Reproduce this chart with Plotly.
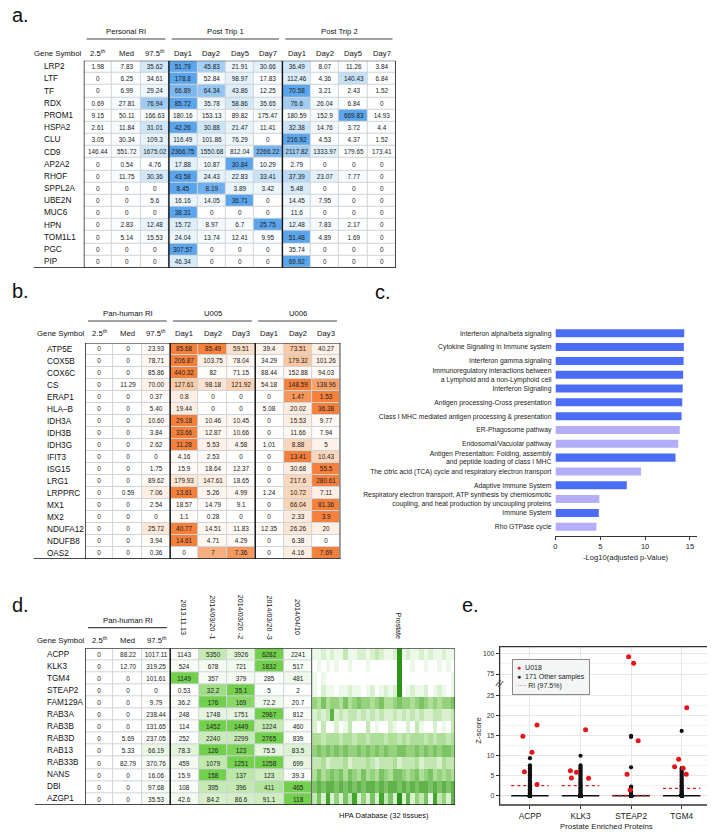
import plotly.graph_objects as go

# page body has an 8px margin, so the figure is drawn 8px in from the corner
OX, OY = 8, 8
FW, FH = 707, 824
FONT = "Liberation Sans, Arial, Helvetica, sans-serif"


def fx(p):
    return (p - OX) / FW


def fy(p):
    return 1 - (p - OY) / FH


# ---------------- panel a data ----------------
a_genes = ["LRP2", "LTF", "TF", "RDX", "PROM1", "HSPA2", "CLU", "CD9", "AP2A2", "RHOF",
           "SPPL2A", "UBE2N", "MUC6", "HPN", "TOM1L1", "PGC", "PIP"]
a_cols = ["2.5<sup>th</sup>", "Med", "97.5<sup>th</sup>", "Day1", "Day2", "Day5", "Day7",
          "Day1", "Day2", "Day5", "Day7"]
a_groups = ["Personal RI", "Post Trip 1", "Post Trip 2"]
a_spans = [(0, 2), (3, 6), (7, 10)]
a_vals = [
    ["1.98", "7.83", "35.62", "51.79", "45.83", "21.91", "30.66", "36.49", "8.07", "11.26", "3.84"],
    ["0", "6.25", "34.61", "178.8", "52.84", "98.97", "17.83", "112.46", "4.36", "140.43", "6.84"],
    ["0", "6.99", "29.24", "66.89", "64.34", "43.86", "12.25", "70.58", "3.21", "2.43", "1.52"],
    ["0.69", "27.81", "76.94", "85.72", "35.78", "58.86", "35.65", "76.6", "26.04", "6.84", "0"],
    ["9.15", "50.11", "166.63", "180.16", "153.13", "89.82", "175.47", "180.59", "152.9", "669.83", "14.93"],
    ["2.61", "11.84", "31.01", "42.26", "30.88", "21.47", "11.41", "32.38", "14.76", "3.72", "4.4"],
    ["3.05", "30.34", "109.3", "116.49", "101.86", "76.29", "0", "216.92", "4.53", "4.37", "1.52"],
    ["146.44", "551.72", "1675.02", "2366.75", "1550.68", "812.04", "2266.22", "2117.82", "1333.97", "179.65", "173.41"],
    ["0", "0.54", "4.76", "17.88", "10.87", "30.84", "10.29", "2.79", "0", "0", "0"],
    ["0", "11.75", "30.36", "43.58", "24.43", "22.83", "33.41", "37.39", "23.07", "7.77", "0"],
    ["0", "0", "0", "8.45", "8.19", "3.89", "3.42", "5.48", "0", "0", "0"],
    ["0", "0", "5.6", "16.16", "14.05", "36.71", "0", "14.45", "7.95", "0", "0"],
    ["0", "0", "0", "38.31", "0", "0", "0", "11.6", "0", "0", "0"],
    ["0", "2.83", "12.48", "15.72", "8.97", "6.7", "25.75", "12.48", "7.83", "2.17", "0"],
    ["0", "5.14", "15.53", "24.04", "13.74", "12.41", "9.95", "51.48", "4.89", "1.69", "0"],
    ["0", "0", "0", "307.57", "0", "0", "0", "35.74", "0", "0", "0"],
    ["0", "0", "0", "46.34", "0", "0", "0", "69.92", "0", "0", "0"],
]

# ---------------- panel b data ----------------
b_genes = ["ATP5E", "COX5B", "COX6C", "CS", "ERAP1", "HLA\u2013B", "IDH3A", "IDH3B", "IDH3G",
           "IFIT3", "ISG15", "LRG1", "LRPPRC", "MX1", "MX2", "NDUFA12", "NDUFB8", "OAS2"]
b_cols = ["2.5<sup>th</sup>", "Med", "97.5<sup>th</sup>", "Day1", "Day2", "Day3", "Day1", "Day2", "Day3"]
b_groups = ["Pan-human RI", "U005", "U006"]
b_spans = [(0, 2), (3, 5), (6, 8)]
b_vals = [
    ["0", "0", "23.93", "85.68", "85.49", "59.51", "39.4", "73.51", "40.27"],
    ["0", "0", "78.71", "206.87", "103.75", "78.04", "34.29", "179.32", "101.26"],
    ["0", "0", "85.86", "440.32", "82", "71.15", "88.44", "152.88", "94.03"],
    ["0", "11.29", "70.00", "127.61", "98.18", "121.92", "54.18", "148.59", "138.96"],
    ["0", "0", "0.37", "0.8", "0", "0", "0", "1.47", "1.53"],
    ["0", "0", "5.40", "19.44", "0", "0", "5.08", "20.02", "36.38"],
    ["0", "0", "10.60", "29.18", "10.46", "10.45", "0", "15.53", "9.77"],
    ["0", "0", "3.84", "33.66", "12.87", "10.66", "0", "11.66", "7.94"],
    ["0", "0", "2.62", "11.28", "5.53", "4.58", "1.01", "8.88", "5"],
    ["0", "0", "0", "4.16", "2.53", "0", "0", "13.41", "10.43"],
    ["0", "0", "1.75", "15.9", "18.64", "12.37", "0", "30.68", "55.5"],
    ["0", "0", "89.62", "179.93", "147.61", "18.65", "0", "217.6", "280.61"],
    ["0", "0.59", "7.06", "13.61", "5.26", "4.99", "1.24", "10.72", "7.11"],
    ["0", "0", "2.54", "18.57", "14.79", "9.1", "0", "66.04", "81.36"],
    ["0", "0", "0", "1.1", "0.28", "0", "0", "2.33", "3.9"],
    ["0", "0", "25.72", "40.77", "14.51", "11.83", "12.35", "26.26", "20"],
    ["0", "0", "3.94", "14.61", "4.71", "4.29", "0", "6.38", "0"],
    ["0", "0", "0.36", "0", "7", "7.36", "0", "4.16", "7.69"],
]

# ---------------- panel c data ----------------
c_pathways = [
    "Interferon alpha/beta signaling",
    "Cytokine Signaling in Immune system",
    "Interferon gamma signaling",
    "Immunoregulatory interactions between<br>a Lymphoid and a non-Lymphoid cell",
    "Interferon Signaling",
    "Antigen processing-Cross presentation",
    "Class I MHC mediated antigen processing & presentation",
    "ER-Phagosome pathway",
    "Endosomal/Vacuolar pathway",
    "Antigen Presentation: Folding, assembly<br>and peptide loading of class I MHC",
    "The citric acid (TCA) cycle and respiratory electron transport",
    "Adaptive Immune System",
    "Respiratory electron transport, ATP synthesis by chemiosmotic<br>coupling, and heat production by uncoupling proteins",
    "Immune System",
    "Rho GTPase cycle",
]
c_scores = [14.37, 14.33, 14.30, 14.25, 14.20, 14.15, 14.07, 13.87, 13.70, 13.40, 9.55, 7.96, 4.90, 4.84, 4.57]
c_immune = [1, 1, 1, 1, 1, 1, 1, 0, 0, 1, 0, 1, 0, 1, 0]

# ---------------- panel d data ----------------
d_genes = ["ACPP", "KLK3", "TGM4", "STEAP2", "FAM129A", "RAB3A", "RAB3B", "RAB3D", "RAB13",
           "RAB33B", "NANS", "DBI", "AZGP1"]
d_cols = ["2.5<sup>th</sup>", "Med", "97.5<sup>th</sup>", "2013.11.13", "2014/03/20 -1",
          "2014/03/20 -2", "2014/03/20 -3", "2014/04/10"]
d_groups = ["Pan-human RI"]
d_spans = [(0, 2)]
d_vals = [
    ["0", "88.22", "1017.11", "1143", "5350", "3926", "6282", "2241"],
    ["0", "12.70", "319.25", "524", "678", "721", "1832", "517"],
    ["0", "0", "101.61", "1149", "357", "379", "285", "481"],
    ["0", "0", "0", "0.53", "32.2", "35.1", "5", "2"],
    ["0", "0", "9.79", "36.2", "176", "169", "72.2", "20.7"],
    ["0", "0", "238.44", "248", "1748", "1751", "2967", "812"],
    ["0", "0", "131.65", "114", "1452", "1449", "1224", "460"],
    ["0", "5.69", "237.05", "252", "2240", "2299", "2765", "839"],
    ["0", "5.33", "66.19", "78.3", "126", "123", "75.5", "83.5"],
    ["0", "82.79", "370.76", "459", "1079", "1251", "1258", "699"],
    ["0", "0", "16.06", "15.9", "158", "137", "123", "39.3"],
    ["0", "0", "97.68", "108", "395", "396", "411", "465"],
    ["0", "0", "35.53", "42.6", "84.2", "86.6", "91.1", "118"],
]
hpa_prostate_index = 19
# HPA expression levels (0-9) across 32 tissues, one string per gene
hpa_levels = [
    "11212113" "11221232" "11291211" "21211211",
    "01010100" "10001000" "00090010" "01001010",
    "10100000" "00000000" "00090000" "00000001",
    "10211011" "21101201" "21290121" "12012101",
    "54645546" "45655456" "44565545" "65454556",
    "23237232" "33232323" "22323232" "32233223",
    "20300201" "30003010" "02100203" "10020103",
    "44344434" "43443444" "34434344" "43434434",
    "56565656" "55656565" "65566556" "56565665",
    "33423334" "23334323" "33423334" "23332433",
    "46456564" "65464546" "54665456" "45645454",
    "67677676" "76767767" "67767676" "77676767",
    "36282526" "38252628" "36292725" "36183527",
]

# ---------------- panel e data ----------------
e_genes = ["ACPP", "KLK3", "STEAP2", "TGM4"]
e_u018 = [
    [17.7, 14.9, 10.9, 6.0, 2.8],
    [16.5, 6.25, 5.85, 4.4, 4.35],
    [95.9, 87.9, 13.75, 5.4, 1.4],
    [22.0, 9.1, 7.25, 6.85, 5.35],
]
e_u018_jitter = [
    [0.14, -0.14, 0.04, -0.11, 0.14],
    [0.10, -0.20, -0.08, -0.18, 0.16],
    [-0.05, 0.05, 0.14, -0.08, -0.02],
    [0.10, -0.06, -0.14, 0.03, 0.09],
]
e_others_nonzero = [
    [9.4, 7.6, 7.2, 6.8, 6.3, 5.9, 5.4, 5.0, 4.6, 4.2, 3.8, 3.5, 3.2, 2.9, 2.6, 2.3, 2.0,
     1.8, 1.6, 1.4, 1.2, 1.0, 0.8, 0.6, 0.4, 0.2],
    [10.0, 7.6, 7.2, 6.9, 6.5, 6.1, 5.7, 5.3, 4.9, 4.5, 4.1, 3.7, 3.3, 3.0, 2.7, 2.4, 2.1,
     1.8, 1.5, 1.2, 0.9, 0.6, 0.3],
    [15.0, 14.7, 7.1, 2.3, 2.0, 1.0, 0.4],
    [16.2, 6.9, 6.5, 6.1, 5.7, 5.3, 4.9, 4.5, 4.1, 3.7, 3.3, 2.9, 2.6, 2.3, 2.0, 1.7, 1.4,
     1.1, 0.8, 0.5, 0.2],
]
e_n_others = 171
e_ri975 = [2.5, 2.5, 0.05, 1.85]

# ---------------- styles ----------------
BLUE_SCALE = [[0, "#ffffff"], [0.3, "#f5fafd"], [0.6, "#e0f0fa"], [0.85, "#bcdcf5"], [1, "#5aa5ec"]]
ORANGE_SCALE = [[0, "#ffffff"], [0.3, "#fffaf6"], [0.6, "#fdeadc"], [0.85, "#fbcfae"], [1, "#f4803c"]]
GREEN_SCALE = [[0, "#ffffff"], [0.3, "#f7fcf5"], [0.6, "#e5f5de"], [0.85, "#c5eab3"], [1, "#72d04c"]]
HPA_SCALE = [[0, "#ffffff"], [0.12, "#ecf8e6"], [0.5, "#a3da8a"], [1, "#2b9418"]]
RED = "#e8141c"

fig = go.Figure()
shapes = []
annos = []
axes = {}


def note(x, y, text, size, xref="paper", yref="paper", xanchor="center", yanchor="middle",
         angle=0, color="#111", **kw):
    annos.append(dict(x=x, y=y, xref=xref, yref=yref, text=text, showarrow=False,
                      xanchor=xanchor, yanchor=yanchor, textangle=angle,
                      font=dict(size=size, color=color), **kw))


def refs(n):
    s = "" if n == 1 else str(n)
    return "x" + s, "y" + s, "xaxis" + s, "yaxis" + s


def add_table(n, genes, cols, vals, cscale, xpx, ypx, gene_x, sym_cx, hdr_y,
              groups, spans, grp_y, line_y, thick, bottom_left, right_px,
              rot_from=None, rot_y=None):
    xr, yr, xk, yk = refs(n)
    nr, nc = len(genes), len(cols)
    z = []
    for row in vals:
        nums = [float(v) for v in row]
        m = max(nums)
        z.append([v / m if m > 0 else 0 for v in nums])
    fig.add_trace(go.Heatmap(z=z, text=vals, texttemplate="%{text}",
                             textfont=dict(size=6.4, color="#222", family=FONT),
                             colorscale=cscale, zmin=0, zmax=1, showscale=False,
                             xgap=1, ygap=1, hoverinfo="skip", xaxis=xr, yaxis=yr))
    axes[xk] = dict(domain=[fx(xpx[0]), fx(xpx[1])], range=[-0.5, nc - 0.5],
                    visible=False, fixedrange=True, anchor=yr)
    axes[yk] = dict(domain=[fy(ypx[1]), fy(ypx[0])], range=[nr - 0.5, -0.5],
                    visible=False, fixedrange=True, anchor=xr)
    shapes.append(dict(type="rect", xref=xr, yref=yr, x0=-0.5, x1=nc - 0.5, y0=-0.5,
                       y1=nr - 0.5, fillcolor="#cfd4d8", line=dict(width=0), layer="below"))
    for i, g in enumerate(genes):
        note(fx(gene_x), i, g, 8.2, yref=yr, xanchor="left")
    note(fx(sym_cx), fy(hdr_y), "Gene Symbol", 7.8)
    for j, c in enumerate(cols):
        if rot_from is not None and j >= rot_from:
            note(j, fy(rot_y), c, 7.2, xref=xr, angle=90)
        else:
            note(j, fy(hdr_y), c, 7.7, xref=xr)
    for g, (c0, c1) in zip(groups, spans):
        note((c0 + c1) / 2, fy(grp_y), g, 7.7, xref=xr)
        shapes.append(dict(type="line", xref=xr, yref="paper", x0=c0 - 0.4, x1=c1 + 0.38,
                           y0=fy(line_y), y1=fy(line_y), line=dict(color="#444", width=1.2)))
    for b in thick:
        shapes.append(dict(type="line", xref=xr, yref=yr, x0=b, x1=b, y0=-0.5, y1=nr - 0.5,
                           line=dict(color="#111", width=1.4)))
    shapes.append(dict(type="line", xref="paper", yref=yr, x0=fx(xpx[0]), x1=fx(right_px),
                       y0=-0.5, y1=-0.5, line=dict(color="#111", width=1)))
    shapes.append(dict(type="line", xref="paper", yref=yr, x0=fx(bottom_left), x1=fx(right_px),
                       y0=nr - 0.5, y1=nr - 0.5, line=dict(color="#111", width=1.4)))


# panel a
add_table(1, a_genes, a_cols, a_vals, BLUE_SCALE, (82, 395), (60.7, 267.7), 40, 56, 53,
          a_groups, a_spans, 31, 39, [-0.5, 2.5, 6.5, 10.5], 31.7, 395)
# panel b
add_table(2, b_genes, b_cols, b_vals, ORANGE_SCALE, (83.3, 339.3), (343, 559), 43, 59, 333,
          b_groups, b_spans, 313, 321, [-0.5, 2.5, 5.5, 8.5], 31.7, 339.3)
# panel d table
add_table(4, d_genes, d_cols, d_vals, GREEN_SCALE, (83.3, 311), (648.3, 805), 43, 59, 640,
          d_groups, d_spans, 620, 627.7, [-0.5, 2.5, 7.5], 33, 454.3, rot_from=3, rot_y=617)

# HPA heatmap (panel d right)
hpa_z = [[int(ch) / 9 for ch in row] for row in hpa_levels]
fig.add_trace(go.Heatmap(z=hpa_z, colorscale=HPA_SCALE, zmin=0, zmax=1, showscale=False,
                         hoverinfo="skip", xaxis="x5", yaxis="y5"))
axes["xaxis5"] = dict(domain=[fx(311), fx(454.3)], range=[-0.5, 31.5], visible=False,
                      fixedrange=True, anchor="y5")
axes["yaxis5"] = dict(domain=[fy(805), fy(648.3)], range=[len(hpa_levels) - 0.5, -0.5],
                      visible=False, fixedrange=True, anchor="x5")
shapes.append(dict(type="line", xref="x5", yref="y5", x0=31.5, x1=31.5, y0=-0.5,
                   y1=len(hpa_levels) - 0.5, line=dict(color="#222", width=1)))
note(hpa_prostate_index, fy(626), "Prostate", 7, xref="x5", angle=90)
note(fx(383), fy(815), "HPA Database (32 tissues)", 7.5)

# panel c bars
BLUE = "#4b6df5"
LAV = "#b4adf8"
fig.add_trace(go.Bar(x=c_scores, y=c_pathways, orientation="h",
                     marker=dict(color=[BLUE if k else LAV for k in c_immune], line=dict(width=0)),
                     width=0.58, showlegend=False, hoverinfo="skip", xaxis="x3", yaxis="y3"))
axes["xaxis3"] = dict(domain=[fx(555), fx(697)], range=[0, 15.8], tickvals=[0, 5, 10, 15],
                      showline=True, linecolor="#333", linewidth=1, ticks="outside", ticklen=3,
                      tickcolor="#333", tickfont=dict(size=7.5, color="#222"), showgrid=False,
                      zeroline=False, anchor="y3", fixedrange=True)
axes["yaxis3"] = dict(domain=[fy(535.7), fy(324)], range=[14.65, -0.67], type="category",
                      showline=False, ticks="", showgrid=False, tickfont=dict(size=6.8, color="#222"),
                      anchor="x3", fixedrange=True, ticklabelstandoff=3)
note(fx(626), fy(557), "-Log10(adjusted p-Value)", 7.6, color="#222")

# panel e
BREAK = 50
red_lo_x, red_lo_y, red_hi_x, red_hi_y = [], [], [], []
for i, (zs, js) in enumerate(zip(e_u018, e_u018_jitter)):
    for zv, jv in zip(zs, js):
        if zv > BREAK:
            red_hi_x.append(i + jv)
            red_hi_y.append(zv)
        else:
            red_lo_x.append(i + jv)
            red_lo_y.append(zv)
oth_x, oth_y = [], []
for i, nz in enumerate(e_others_nonzero):
    vals = list(nz) + [0.0] * (e_n_others - len(nz))
    oth_x += [i] * len(vals)
    oth_y += vals
ri_x, ri_y = [], []
for i, r in enumerate(e_ri975):
    ri_x += [i - 0.37, i + 0.37, None]
    ri_y += [r, r, None]

fig.add_trace(go.Box(x=oth_x, y=oth_y, width=0.74, boxpoints="outliers",
                     marker=dict(size=1, opacity=0), fillcolor="#9a9a9a",
                     line=dict(color="#111", width=1.6), whiskerwidth=0, showlegend=False,
                     hoverinfo="skip", xaxis="x6", yaxis="y6"))
fig.add_trace(go.Scatter(x=ri_x, y=ri_y, mode="lines", name="RI (97.5%)",
                         line=dict(color="#d62020", width=1.3, dash="dot"),
                         xaxis="x6", yaxis="y6"))
fig.add_trace(go.Scatter(x=oth_x, y=oth_y, mode="markers", name="171 Other samples",
                         marker=dict(color="#111", size=4.2), xaxis="x6", yaxis="y6"))
fig.add_trace(go.Scatter(x=red_lo_x, y=red_lo_y, mode="markers", name="U018",
                         marker=dict(color=RED, size=5), xaxis="x6", yaxis="y6"))
fig.add_trace(go.Scatter(x=red_hi_x, y=red_hi_y, mode="markers", name="U018",
                         marker=dict(color=RED, size=5), xaxis="x6", yaxis="y7"))

GRID = "#e6e6e6"
MINOR = "#f2f2f2"
axes["xaxis6"] = dict(domain=[fx(499), fx(712)], range=[-0.6, 3.6], tickvals=[0, 1, 2, 3],
                      ticktext=e_genes, ticks="outside", ticklen=3, tickcolor="#333",
                      tickfont=dict(size=8.3, color="#222"), showgrid=True, gridcolor=GRID,
                      zeroline=False, showline=False, anchor="y6", fixedrange=True)
axes["yaxis6"] = dict(domain=[fy(805), fy(685)], range=[-2.325, 27.7],
                      tickvals=[0, 5, 10, 15, 20, 25], ticks="outside", ticklen=3,
                      tickcolor="#333", tickfont=dict(size=6.8, color="#333"), showgrid=True,
                      gridcolor=GRID, zeroline=False, anchor="x6", fixedrange=True,
                      minor=dict(tickvals=[2.5, 7.5, 12.5, 17.5, 22.5], showgrid=True,
                                 gridcolor=MINOR, ticks=""))
axes["yaxis7"] = dict(domain=[fy(685), fy(646.7)], range=[61.7, 108], tickvals=[75, 100],
                      ticks="outside", ticklen=3, tickcolor="#333",
                      tickfont=dict(size=6.8, color="#333"), showgrid=True, gridcolor=GRID,
                      zeroline=False, anchor="x6", fixedrange=True,
                      minor=dict(tickvals=[87.5], showgrid=True, gridcolor=MINOR, ticks=""))
shapes.append(dict(type="rect", xref="x6 domain", yref="paper", x0=0, x1=1, y0=fy(805),
                   y1=fy(646.7), line=dict(color="#333", width=1.3)))
note(fx(499), fy(683), "//", 10, angle=25, color="#333")
note(fx(477), fy(731), "Z-score", 7.8, angle=-90, color="#222")
note(fx(606), fy(826), "Prostate Enriched Proteins", 7.8, color="#222")

# legend box for panel e (drawn as a text box)
legend_text = ("<span style='color:%s'>\u25cf</span>  U018<br>"
               "\u25cf  171 Other samples<br>"
               "<span style='color:#d62020'>\u00b7\u00b7\u00b7\u00b7</span> RI (97.5%%)") % RED
note(fx(511), fy(659.3), legend_text, 7, xanchor="left", yanchor="top", color="#222",
     align="left", bgcolor="#f4f6f6", bordercolor="#8a8a8a", borderwidth=1, borderpad=4)

# panel letters (left edge, vertical centre); kept inside the figure area
for letter, px, py in [("a.", 8, 15), ("b.", 8, 291), ("c.", 372, 292), ("d.", 8, 605),
                       ("e.", 459, 605)]:
    note(fx(px), fy(py), letter, 20, xanchor="left")

fig.update_layout(
    width=FW, height=FH, autosize=False,
    margin=dict(l=0, r=0, t=0, b=0),
    paper_bgcolor="white", plot_bgcolor="white",
    font=dict(family=FONT, color="#222"),
    shapes=shapes, annotations=annos,
    showlegend=False,
    **axes,
)

fig.write_html("out.html")
